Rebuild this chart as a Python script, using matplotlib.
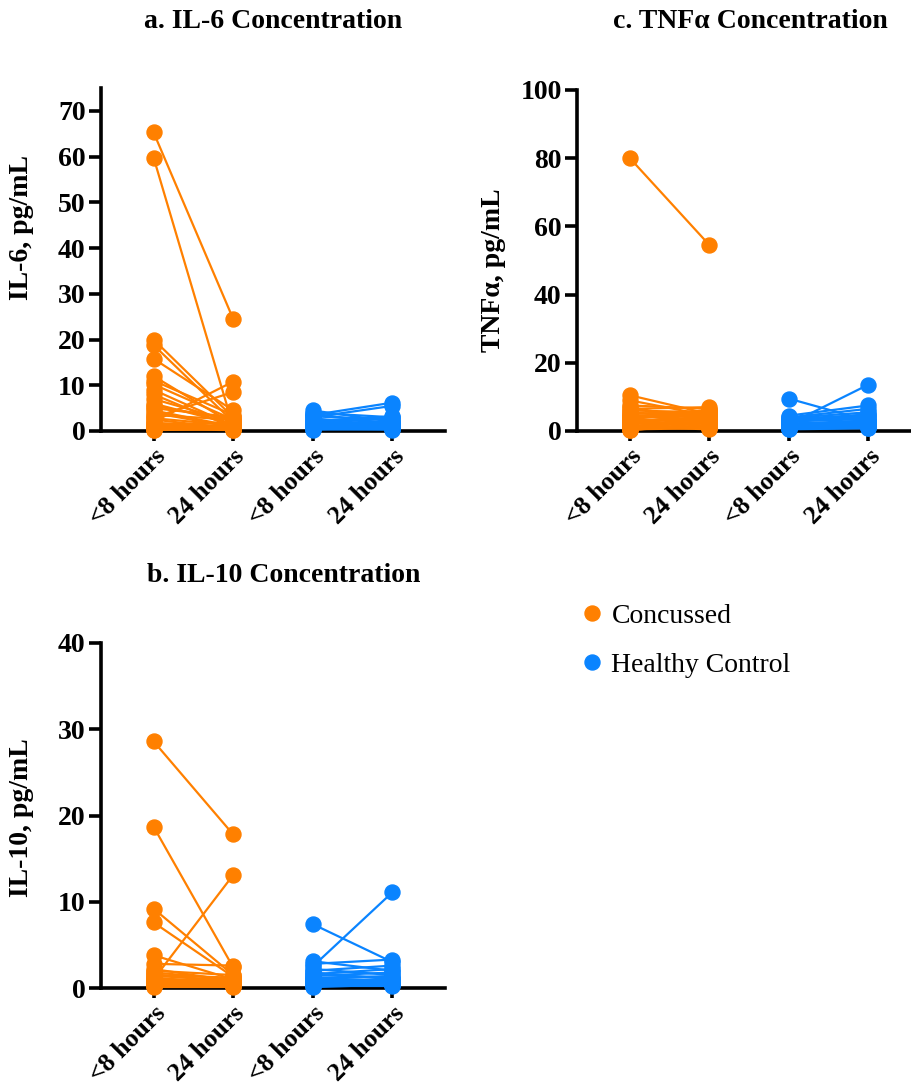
import matplotlib
matplotlib.use("Agg")
import matplotlib.pyplot as plt
from matplotlib.lines import Line2D

plt.rcParams['font.family'] = ['Liberation Serif', 'DejaVu Serif']

categories = ["<8 hours", "24 hours", "<8 hours", "24 hours"]
group_names = ["Concussed", "Healthy Control"]
colors = ["#FF8000", "#0A84FF"]

# IL-6 (pg/mL)
il6_conc_pre = [65.3, 59.8, 20.0, 18.8, 15.8, 12.0, 11.0, 10.2, 9.0, 8.0, 7.0, 6.0, 5.5, 5.0, 4.5,
                4.0, 3.5, 3.0, 2.8, 2.5, 2.0, 1.8, 1.5, 1.2, 1.0, 0.8, 0.6, 0.4, 0.3, 0.2]
il6_conc_24 = [24.5, 1.0, 3.0, 2.0, 4.5, 1.5, 3.5, 2.5, 1.2, 0.8, 2.0, 1.5, 2.5, 3.0, 1.0,
               0.8, 2.5, 8.5, 1.2, 0.5, 10.8, 1.0, 0.7, 2.0, 0.3, 1.0, 0.5, 0.2, 0.6, 0.4]
il6_ctrl_pre = [4.5, 4.0, 3.8, 3.5, 3.2, 3.0, 2.8, 2.5, 2.2, 2.0, 2.0, 1.8, 1.5, 1.5, 1.2, 1.0,
                1.0, 0.8, 0.6, 0.5, 0.4, 0.3]
il6_ctrl_24 = [2.0, 3.0, 1.5, 6.2, 2.5, 5.5, 1.0, 2.0, 3.2, 1.5, 2.8, 1.0, 2.0, 0.8, 1.5, 0.6,
               1.2, 0.5, 1.0, 0.3, 0.7, 0.4]

# IL-10 (pg/mL)
il10_conc_pre = [28.6, 18.7, 9.2, 7.6, 3.8, 2.8, 2.2, 2.0, 1.8, 1.6, 1.5, 1.4, 1.2, 1.1, 1.0,
                 0.9, 0.8, 0.8, 0.7, 0.6, 0.6, 0.5, 0.5, 0.4, 0.4, 0.3, 0.3, 0.2, 0.2, 0.1]
il10_conc_24 = [17.8, 2.4, 1.5, 1.3, 1.0, 2.6, 0.8, 1.5, 1.0, 0.6, 1.2, 0.9, 0.5, 0.7, 13.1,
                0.4, 1.1, 0.3, 0.8, 0.5, 0.2, 0.6, 1.0, 0.3, 0.4, 0.7, 0.2, 0.5, 0.3, 0.1]
il10_ctrl_pre = [7.4, 3.1, 2.5, 2.8, 2.2, 2.0, 1.8, 1.6, 1.5, 1.4, 1.2, 1.1, 1.0, 0.9, 0.8, 0.7,
                 0.6, 0.5, 0.4, 0.3, 0.2, 0.1]
il10_ctrl_24 = [3.0, 2.0, 11.1, 3.3, 1.5, 2.6, 1.0, 2.2, 1.2, 1.8, 0.8, 1.4, 0.6, 1.0, 0.5, 0.9,
                0.4, 0.7, 0.3, 0.5, 0.2, 0.4]

# TNFa (pg/mL)
tnf_conc_pre = [80.1, 10.5, 9.0, 7.5, 7.0, 6.5, 6.0, 5.5, 5.0, 4.8, 4.5, 4.2, 4.0, 3.8, 3.5,
                3.2, 3.0, 2.8, 2.5, 2.2, 2.0, 1.8, 1.5, 1.2, 1.0, 0.8, 0.6, 0.5, 0.3, 0.2]
tnf_conc_24 = [54.6, 5.0, 4.5, 6.5, 3.0, 7.0, 5.5, 4.0, 6.0, 2.5, 5.2, 3.5, 4.8, 2.0, 6.2,
               3.0, 1.5, 4.2, 3.8, 2.2, 5.8, 1.0, 2.8, 0.5, 4.0, 1.2, 3.2, 0.8, 1.8, 2.5]
tnf_ctrl_pre = [9.5, 4.5, 4.0, 2.0, 3.8, 3.5, 3.2, 3.0, 2.8, 2.5, 2.2, 2.0, 1.8, 1.6, 1.5, 1.3,
                1.2, 1.0, 0.9, 0.8, 0.6, 0.5]
tnf_ctrl_24 = [3.0, 7.5, 6.5, 13.6, 5.5, 4.8, 4.5, 4.0, 3.5, 5.0, 3.0, 2.5, 2.8, 2.2, 3.2, 2.0,
               1.8, 1.5, 1.2, 2.6, 1.0, 0.8]

W, H = 912, 1089
fig = plt.figure(figsize=(W / 100, H / 100), dpi=100)
FS = 20
XFS = 18.5


def px_axes(left, top, right, bottom):
    return fig.add_axes([left / W, 1 - bottom / H, (right - left) / W, (bottom - top) / H])


def panel(ax, conc_pre, conc_24, ctrl_pre, ctrl_24, ymax, yticks):
    for pre, post, x0, c in [(conc_pre, conc_24, 0, colors[0]), (ctrl_pre, ctrl_24, 2, colors[1])]:
        for a, b in zip(pre, post):
            ax.plot([x0, x0 + 1], [a, b], color=c, lw=1.6, marker='o', ms=10.8,
                    mec=c, mfc=c, clip_on=False, zorder=3)
    ax.set_xlim(-0.66, 3.66)
    ax.set_ylim(0, ymax)
    ax.set_yticks(yticks)
    ax.set_xticks(range(4))
    ax.set_xticklabels(categories, rotation=45, ha='right', rotation_mode='anchor',
                       fontsize=XFS, fontweight='bold')
    for lab in ax.get_yticklabels():
        lab.set_fontsize(FS)
        lab.set_fontweight('bold')
    for s in ['top', 'right']:
        ax.spines[s].set_visible(False)
    for s in ['left', 'bottom']:
        ax.spines[s].set_linewidth(2.6)
    ax.tick_params(axis='y', width=2.6, length=9, direction='out', pad=2)
    ax.tick_params(axis='x', width=2.6, length=7, direction='out', pad=3)


ax_a = px_axes(101, 88, 445, 431)
panel(ax_a, il6_conc_pre, il6_conc_24, il6_ctrl_pre, il6_ctrl_24, 75, range(0, 71, 10))
ax_b = px_axes(101, 643, 445, 988)
panel(ax_b, il10_conc_pre, il10_conc_24, il10_ctrl_pre, il10_ctrl_24, 40, range(0, 41, 10))
ax_c = px_axes(577, 90, 921, 431)
panel(ax_c, tnf_conc_pre, tnf_conc_24, tnf_ctrl_pre, tnf_ctrl_24, 100, range(0, 101, 20))

fig.text(22 / W, 1 - 228 / H, "IL-6, pg/mL", rotation=90, ha='center', va='center',
         fontsize=FS, fontweight='bold')
fig.text(22 / W, 1 - 818 / H, "IL-10, pg/mL", rotation=90, ha='center', va='center',
         fontsize=FS, fontweight='bold')
fig.text(494 / W, 1 - 270 / H, "TNF\u03b1, pg/mL", rotation=90, ha='center', va='center',
         fontsize=FS, fontweight='bold')

fig.text(273 / W, 1 - 22 / H, "a. IL-6 Concentration", ha='center', va='center',
         fontsize=20, fontweight='bold')
fig.text(284 / W, 1 - 576 / H, "b. IL-10 Concentration", ha='center', va='center',
         fontsize=20, fontweight='bold')
fig.text(750 / W, 1 - 22 / H, "c. TNF\u03b1 Concentration", ha='center', va='center',
         fontsize=20, fontweight='bold')

handles = [Line2D([], [], ls='none', marker='o', ms=10.8, color=c) for c in colors]
fig.legend(handles, group_names, loc='upper left', bbox_to_anchor=(567 / W, 1 - 592 / H),
           frameon=False, fontsize=20, handletextpad=0.2, labelspacing=0.85,
           handlelength=1.0, borderaxespad=0)

fig.savefig("out.png", dpi=100)
